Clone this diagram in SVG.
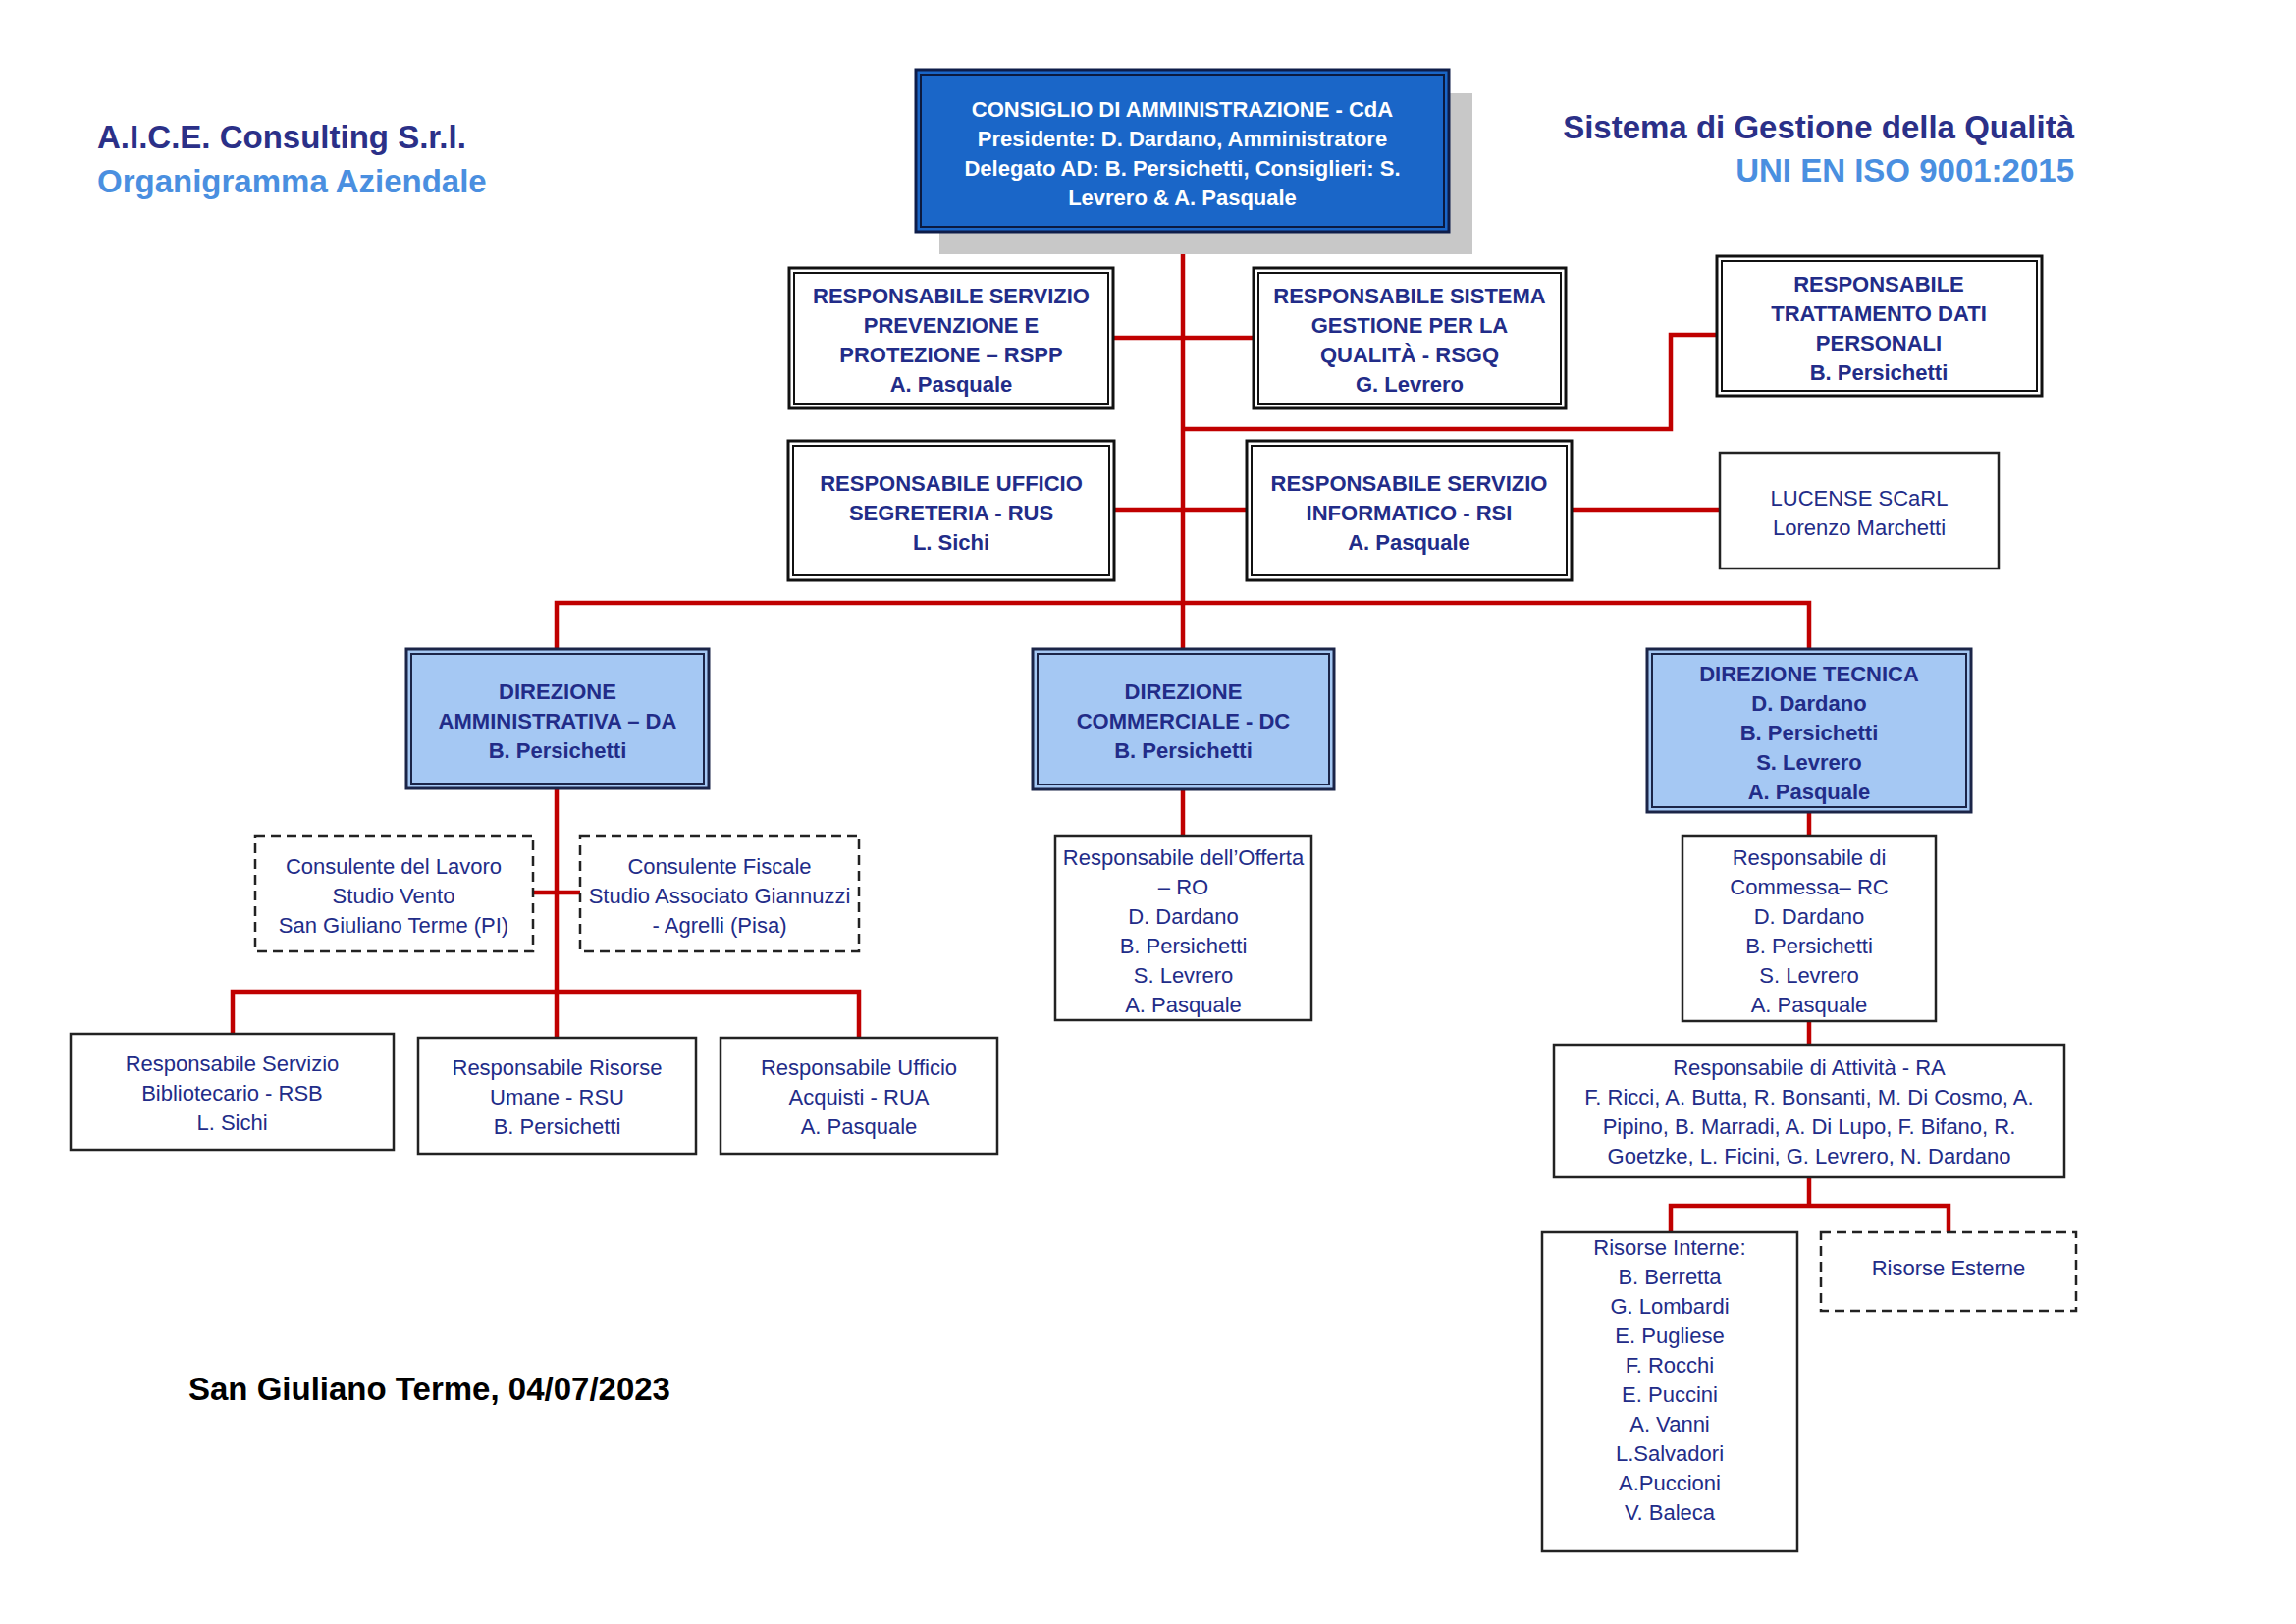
<svg xmlns="http://www.w3.org/2000/svg" width="2339" height="1654" viewBox="0 0 2339 1654">
<style>
.t{font-family:"Liberation Sans",Arial,sans-serif;font-size:22px;fill:#222c88;text-anchor:middle}
.b{font-weight:bold}
.w{fill:#ffffff}
.o{fill:#ffffff;stroke:#111111;stroke-width:3}
.i{fill:none;stroke:#111111;stroke-width:2}
.s{fill:#ffffff;stroke:#222222;stroke-width:2.5}
.d{fill:#ffffff;stroke:#222222;stroke-width:2.5;stroke-dasharray:10,6}
.lb{fill:#a5c8f3;stroke:#1b2548;stroke-width:3}
.lbi{fill:none;stroke:#1b2548;stroke-width:2}
.c{fill:none;stroke:#c00000;stroke-width:4.5;stroke-linejoin:miter}
.h{font-family:"Liberation Sans",Arial,sans-serif;font-size:33px;font-weight:bold}
</style>
<rect width="2339" height="1654" fill="#ffffff"/>
<g id="titles">
<text class="h" x="99" y="151" fill="#2b3088">A.I.C.E. Consulting S.r.l.</text>
<text class="h" x="99" y="196" fill="#4a8fe0">Organigramma Aziendale</text>
<text class="h" x="2113" y="141" fill="#2b3088" text-anchor="end">Sistema di Gestione della Qualità</text>
<text class="h" x="2113" y="185" fill="#4a8fe0" text-anchor="end">UNI EN ISO 9001:2015</text>
<text class="h" x="192" y="1426" fill="#000000">San Giuliano Terme, 04/07/2023</text>
</g>
<g id="connectors">
<path class="c" d="M1205,236 V661"/>
<path class="c" d="M1134,344 H1277"/>
<path class="c" d="M1205,437 H1702 V341 H1749"/>
<path class="c" d="M1135,519 H1270"/>
<path class="c" d="M1601,519 H1752"/>
<path class="c" d="M567,661 V614 H1843 V661"/>
<path class="c" d="M567,803 V1057"/>
<path class="c" d="M543,909 H591"/>
<path class="c" d="M237,1053 V1010 H875 V1057"/>
<path class="c" d="M1205,804 V850"/>
<path class="c" d="M1843,827 V850"/>
<path class="c" d="M1843,1040 V1064"/>
<path class="c" d="M1843,1199 V1228"/>
<path class="c" d="M1702,1255 V1228 H1985 V1255"/>
</g>
<g id="cda">
<rect x="957" y="95" width="543" height="164" fill="#c8c8c8"/>
<rect x="933" y="71" width="543" height="165" fill="#1a66c8" stroke="#0e1d4a" stroke-width="3"/>
<rect x="938" y="76" width="533" height="155" fill="none" stroke="#0b1a40" stroke-width="2"/>
<text class="t b w" x="1204.5" y="119">CONSIGLIO DI AMMINISTRAZIONE - CdA</text>
<text class="t b w" x="1204.5" y="149">Presidente: D. Dardano, Amministratore</text>
<text class="t b w" x="1204.5" y="179">Delegato AD: B. Persichetti, Consiglieri: S.</text>
<text class="t b w" x="1204.5" y="209">Levrero &amp; A. Pasquale</text>
</g>
<g id="rspp">
<rect class="o" x="804" y="273" width="330" height="143"/>
<rect class="i" x="809" y="278" width="320" height="133"/>
<text class="t b" x="969" y="309">RESPONSABILE SERVIZIO</text>
<text class="t b" x="969" y="339">PREVENZIONE E</text>
<text class="t b" x="969" y="369">PROTEZIONE – RSPP</text>
<text class="t b" x="969" y="399">A. Pasquale</text>
</g>
<g id="rsgq">
<rect class="o" x="1277" y="273" width="318" height="143"/>
<rect class="i" x="1282" y="278" width="308" height="133"/>
<text class="t b" x="1436" y="309">RESPONSABILE SISTEMA</text>
<text class="t b" x="1436" y="339">GESTIONE PER LA</text>
<text class="t b" x="1436" y="369">QUALITÀ - RSGQ</text>
<text class="t b" x="1436" y="399">G. Levrero</text>
</g>
<g id="rtdp">
<rect class="o" x="1749" y="261" width="331" height="142"/>
<rect class="i" x="1754" y="266" width="321" height="132"/>
<text class="t b" x="1914" y="297">RESPONSABILE</text>
<text class="t b" x="1914" y="327">TRATTAMENTO DATI</text>
<text class="t b" x="1914" y="357">PERSONALI</text>
<text class="t b" x="1914" y="387">B. Persichetti</text>
</g>
<g id="rus">
<rect class="o" x="803" y="449" width="332" height="142"/>
<rect class="i" x="808" y="454" width="322" height="132"/>
<text class="t b" x="969" y="500">RESPONSABILE UFFICIO</text>
<text class="t b" x="969" y="530">SEGRETERIA - RUS</text>
<text class="t b" x="969" y="560">L. Sichi</text>
</g>
<g id="rsi">
<rect class="o" x="1270" y="449" width="331" height="142"/>
<rect class="i" x="1275" y="454" width="321" height="132"/>
<text class="t b" x="1435.5" y="500">RESPONSABILE SERVIZIO</text>
<text class="t b" x="1435.5" y="530">INFORMATICO - RSI</text>
<text class="t b" x="1435.5" y="560">A. Pasquale</text>
</g>
<g id="lucense">
<rect class="s" x="1752" y="461" width="284" height="118"/>
<text class="t" x="1894" y="515">LUCENSE SCaRL</text>
<text class="t" x="1894" y="545">Lorenzo Marchetti</text>
</g>
<g id="da">
<rect class="lb" x="414" y="661" width="308" height="142"/>
<rect class="lbi" x="419" y="666" width="298" height="132"/>
<text class="t b" x="568" y="712">DIREZIONE</text>
<text class="t b" x="568" y="742">AMMINISTRATIVA – DA</text>
<text class="t b" x="568" y="772">B. Persichetti</text>
</g>
<g id="dc">
<rect class="lb" x="1052" y="661" width="307" height="143"/>
<rect class="lbi" x="1057" y="666" width="297" height="133"/>
<text class="t b" x="1205.5" y="712">DIREZIONE</text>
<text class="t b" x="1205.5" y="742">COMMERCIALE - DC</text>
<text class="t b" x="1205.5" y="772">B. Persichetti</text>
</g>
<g id="dt">
<rect class="lb" x="1678" y="661" width="330" height="166"/>
<rect class="lbi" x="1683" y="666" width="320" height="156"/>
<text class="t b" x="1843" y="694">DIREZIONE TECNICA</text>
<text class="t b" x="1843" y="724">D. Dardano</text>
<text class="t b" x="1843" y="754">B. Persichetti</text>
<text class="t b" x="1843" y="784">S. Levrero</text>
<text class="t b" x="1843" y="814">A. Pasquale</text>
</g>
<g id="cons-lavoro">
<rect class="d" x="260" y="851" width="283" height="118"/>
<text class="t" x="401" y="890">Consulente del Lavoro</text>
<text class="t" x="401" y="920">Studio Vento</text>
<text class="t" x="401" y="950">San Giuliano Terme (PI)</text>
</g>
<g id="cons-fiscale">
<rect class="d" x="591" y="851" width="284" height="118"/>
<text class="t" x="733" y="890">Consulente Fiscale</text>
<text class="t" x="733" y="920">Studio Associato Giannuzzi</text>
<text class="t" x="733" y="950">- Agrelli (Pisa)</text>
</g>
<g id="ro">
<rect class="s" x="1075" y="851" width="261" height="188"/>
<text class="t" x="1205.5" y="881">Responsabile dell’Offerta</text>
<text class="t" x="1205.5" y="911">– RO</text>
<text class="t" x="1205.5" y="941">D. Dardano</text>
<text class="t" x="1205.5" y="971">B. Persichetti</text>
<text class="t" x="1205.5" y="1001">S. Levrero</text>
<text class="t" x="1205.5" y="1031">A. Pasquale</text>
</g>
<g id="rc">
<rect class="s" x="1714" y="851" width="258" height="189"/>
<text class="t" x="1843" y="881">Responsabile di</text>
<text class="t" x="1843" y="911">Commessa– RC</text>
<text class="t" x="1843" y="941">D. Dardano</text>
<text class="t" x="1843" y="971">B. Persichetti</text>
<text class="t" x="1843" y="1001">S. Levrero</text>
<text class="t" x="1843" y="1031">A. Pasquale</text>
</g>
<g id="rsb">
<rect class="s" x="72" y="1053" width="329" height="118"/>
<text class="t" x="236.5" y="1091">Responsabile Servizio</text>
<text class="t" x="236.5" y="1121">Bibliotecario - RSB</text>
<text class="t" x="236.5" y="1151">L. Sichi</text>
</g>
<g id="rsu">
<rect class="s" x="426" y="1057" width="283" height="118"/>
<text class="t" x="567.5" y="1095">Responsabile Risorse</text>
<text class="t" x="567.5" y="1125">Umane - RSU</text>
<text class="t" x="567.5" y="1155">B. Persichetti</text>
</g>
<g id="rua">
<rect class="s" x="734" y="1057" width="282" height="118"/>
<text class="t" x="875" y="1095">Responsabile Ufficio</text>
<text class="t" x="875" y="1125">Acquisti - RUA</text>
<text class="t" x="875" y="1155">A. Pasquale</text>
</g>
<g id="ra">
<rect class="s" x="1583" y="1064" width="520" height="135"/>
<text class="t" x="1843" y="1095">Responsabile di Attività - RA</text>
<text class="t" x="1843" y="1125">F. Ricci, A. Butta, R. Bonsanti, M. Di Cosmo, A.</text>
<text class="t" x="1843" y="1155">Pipino, B. Marradi, A. Di Lupo, F. Bifano, R.</text>
<text class="t" x="1843" y="1185">Goetzke, L. Ficini, G. Levrero, N. Dardano</text>
</g>
<g id="risorse-interne">
<rect class="s" x="1571" y="1255" width="260" height="325"/>
<text class="t" x="1701" y="1278">Risorse Interne:</text>
<text class="t" x="1701" y="1308">B. Berretta</text>
<text class="t" x="1701" y="1338">G. Lombardi</text>
<text class="t" x="1701" y="1368">E. Pugliese</text>
<text class="t" x="1701" y="1398">F. Rocchi</text>
<text class="t" x="1701" y="1428">E. Puccini</text>
<text class="t" x="1701" y="1458">A. Vanni</text>
<text class="t" x="1701" y="1488">L.Salvadori</text>
<text class="t" x="1701" y="1518">A.Puccioni</text>
<text class="t" x="1701" y="1548">V. Baleca</text>
</g>
<g id="risorse-esterne">
<rect class="d" x="1855" y="1255" width="260" height="80"/>
<text class="t" x="1985" y="1299">Risorse Esterne</text>
</g>
</svg>
